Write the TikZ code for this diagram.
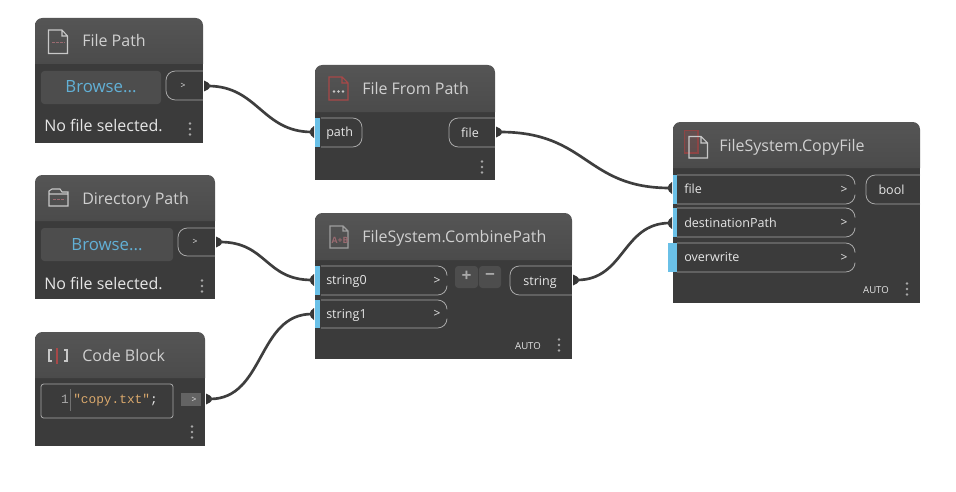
\documentclass[tikz,border=0pt]{standalone}
\usepackage{fontspec}
\setmainfont{Open Sans}
\setmonofont{Liberation Mono}
\definecolor{bodyc}{HTML}{3B3B3B}
\definecolor{hdrtop}{HTML}{555555}
\definecolor{hdrbot}{HTML}{4B4B4B}
\definecolor{txtc}{HTML}{E6E6E6}
\definecolor{titlec}{HTML}{D0D0D0}
\definecolor{btnc}{HTML}{4D4D4D}
\definecolor{browsec}{HTML}{62B0D6}
\definecolor{portc}{HTML}{6AC0E7}
\definecolor{linec}{HTML}{A8A8A8}
\definecolor{wirec}{HTML}{3E3E3E}
\definecolor{iconc}{HTML}{C8C8C8}
\definecolor{iconr}{HTML}{A84848}
\definecolor{iconp}{HTML}{9A6A70}
\definecolor{codec}{HTML}{D9A86C}
\tikzset{
  x=0.75pt,y=-0.75pt,
  titletext/.style={anchor=base west,inner sep=0pt,text=titlec,font=\fontsize{12}{14}\selectfont},
  labeltext/.style={anchor=base west,inner sep=0pt,text=txtc,font=\fontsize{9.4}{11}\selectfont},
  labelmid/.style={anchor=base,inner sep=0pt,text=txtc,font=\fontsize{9.4}{11}\selectfont},
  statustext/.style={anchor=base west,inner sep=0pt,text=txtc,font=\fontsize{12}{14}\selectfont},
  browsetext/.style={anchor=base,inner sep=0pt,text=browsec,font=\fontsize{12.6}{15}\selectfont},
  smalltext/.style={anchor=center,inner sep=0pt,text=txtc,font=\fontsize{6.5}{8}\selectfont},
  autotext/.style={anchor=base,inner sep=0pt,text=txtc,font=\fontsize{7.2}{9}\selectfont},
  wire/.style={draw=wirec,line width=2pt,line cap=round},
  pillline/.style={draw=linec,line width=0.6pt},
  iconline/.style={draw=iconc,line width=0.8pt},
  iconred/.style={draw=iconr,line width=0.8pt},
}
% x1 y1 x2 y2 yh
\newcommand{\dynbody}[5]{%
  \fill[bodyc] (#1,#5) rectangle (#3,#4);
  \shade[top color=hdrtop,bottom color=hdrbot]
    (#1,#5) [rounded corners=5.5pt] -- (#1,#2) -- (#3,#2) [sharp corners] -- (#3,#5) -- cycle;
}
% input pill with closed end: x1 y1 x2 y2 name label
\newcommand{\inpill}[6]{%
  \draw[pillline] (#1,#2) [rounded corners=7pt] -- (#3,#2) -- (#3,#4) [sharp corners] -- (#1,#4);
  \fill[portc] (#1-6,#2) rectangle (#1-1,#4);
  \node[labeltext] (#5) at (#1+5,{(#2+#4)/2+4}) {#6};
}
% input pill whose right end is broken beside its arrow: x1 y1 x2 y2 (line only)
\newcommand{\gappill}[4]{%
  \draw[pillline] (#1,#2) [rounded corners=7pt] -- (#3,#2) -- (#3,{(#2+#4)/2-5});
  \draw[pillline] (#1,#4) [rounded corners=7pt] -- (#3,#4) -- (#3,{(#2+#4)/2+5});
}
\newcommand{\inarrow}[3]{\node[inner sep=0pt,text=txtc,font=\fontsize{9}{11}\selectfont] (#3) at (#1,#2) {>};}
% output pill: x1 y1 x2 y2
\newcommand{\outpill}[4]{%
  \draw[pillline] (#3,#2) [rounded corners=7pt] -- (#1,#2) -- (#1,#4) [sharp corners] -- (#3,#4);
}
\newcommand{\menudots}[2]{%
  \foreach \d in {-5.5,0,5.5} \fill[linec] (#1,#2+\d) circle (1.05pt);
}
% tips
\newcommand{\tipout}[3]{%
  \fill[wirec!85!black] (#1+1,#2-5.5) .. controls (#1+4,#2-4.5) and (#1+7,#2-2.5) .. (#1+7,#2)
     .. controls (#1+7,#2+2.5) and (#1+4,#2+4.5) .. (#1+1,#2+5.5) -- cycle;
  \coordinate (#3) at (#1+5,#2);
}
\newcommand{\tipin}[3]{%
  \fill[wirec!85!black] (#1-1,#2-6) .. controls (#1-3,#2-4.5) and (#1-5.5,#2-2.5) .. (#1-5.5,#2)
     .. controls (#1-5.5,#2+2.5) and (#1-3,#2+4.5) .. (#1-1,#2+6) -- cycle;
  \coordinate (#3) at (#1-3,#2);
}
\begin{document}
\begin{tikzpicture}
\useasboundingbox (0,0) rectangle (956,492);
\fill[white] (0,0) rectangle (956,492);

% ---- File Path
\dynbody{35}{18}{203}{143}{64}
\draw[iconline] (48.5,30) -- (62,30) -- (67.5,36) -- (67.5,53.5) -- (48.5,53.5) -- cycle (62,30) -- (62,36) -- (67.5,36);
\draw[draw=iconp,line width=1.3pt,dash pattern=on 2.2pt off 0.8pt] (52,42.5) -- (65,42.5);
\node[titletext] (t1) at (82,47) {File Path};
\fill[btnc,rounded corners=2.5pt] (41,71) rectangle (161,104);
\node[browsetext] (b1) at (101,93) {Browse...};
\outpill{166}{71}{203}{100}
\node[smalltext] (g1) at (183,86) {>};
\node[statustext] (s1) at (44,131) {No file selected.};
\menudots{190}{129}
\tipout{203}{86}{tip1}

% ---- Directory Path
\dynbody{35}{175}{215}{299}{221}
\draw[iconline] (49,206) -- (49,191) -- (52,189) -- (60,189) -- (62,192) -- (68,192) -- (68,206) -- cycle (49,194) -- (68,194);
\draw[draw=iconp,line width=1.3pt,dash pattern=on 2.2pt off 0.8pt] (53,199.5) -- (65,199.5);
\node[titletext] (t2) at (82,204) {Directory Path};
\fill[btnc,rounded corners=2.5pt] (41,228) rectangle (173,261);
\node[browsetext] (b2) at (107,250) {Browse...};
\outpill{178}{228}{215}{256}
\node[smalltext] (g2) at (195,242) {>};
\node[statustext] (s2) at (44,289) {No file selected.};
\menudots{202}{286}
\tipout{215}{242}{tip2}

% ---- Code Block
\dynbody{35}{332}{205}{446}{378}
\draw[iconline] (52,350) -- (49,350) -- (49,361) -- (52,361) (64,350) -- (67,350) -- (67,361) -- (64,361);
\draw[draw=iconr,line width=1.4pt] (57,348) -- (57,364);
\node[titletext] (t3) at (82,361) {Code Block};
\draw[draw=linec,line width=0.6pt,rounded corners=2pt] (41,384) rectangle (173,418);
\draw[draw=linec!50!bodyc,line width=0.4pt] (70.5,389) -- (70.5,411);
\node[anchor=base east,inner sep=0pt,text=linec,font=\ttfamily\fontsize{9.6}{11}\selectfont] (ln) at (69,403) {1};
\node[anchor=base west,inner sep=0pt,font=\ttfamily\fontsize{9.6}{11}\selectfont] (cd) at (73,403) {\textcolor{codec}{"copy.txt"}\textcolor{txtc}{;}};
\fill[black!45!bodyc!70!white] (181,393) rectangle (201,406);
\node[smalltext] (g3) at (194,400) {>};
\menudots{192}{432}
\tipout{205}{399}{tip3}

% ---- File From Path
\dynbody{315}{65}{495}{180}{112}
\draw[iconred] (329,77) -- (342,77) -- (348,83) -- (348,100) -- (329,100) -- cycle (342,77) -- (342,83) -- (348,83);
\foreach \q in {334,338.5,343} \fill[iconc] (\q,91.5) circle (1.1pt);
\node[titletext] (t4) at (362,94) {File From Path};
\inpill{321}{118}{362}{147}{p4}{path}
\outpill{449}{118}{495}{147}
\node[labelmid] (l4) at (470,137) {file};
\menudots{482}{167}
\tipin{315}{132}{tip4i}
\tipout{495}{132}{tip4o}

% ---- FileSystem.CombinePath
\dynbody{315}{213}{572}{359}{260}
\draw[draw=iconc!70!bodyc,line width=0.8pt] (330,226) -- (343,226) -- (348,231) -- (348,248) -- (330,248) -- cycle (343,226) -- (343,231) -- (348,231);
\node[inner sep=0pt,text=iconp,font=\bfseries\fontsize{6.5}{7}\selectfont] (ai) at (340,240) {A+B};
\node[titletext] (t5) at (362,242) {FileSystem.CombinePath};
\gappill{321}{266}{447}{295}
\fill[portc] (315,266) rectangle (320,295);
\node[labeltext] (p51) at (326,284.5) {string0};
\inarrow{437}{281}{a51}
\gappill{321}{300}{447}{328}
\fill[portc] (315,300) rectangle (320,328);
\node[labeltext] (p52) at (326,318) {string1};
\inarrow{437}{314}{a52}
\fill[btnc,rounded corners=2.5pt] (455,266) rectangle (478,288);
\fill[btnc,rounded corners=2.5pt] (479,266) rectangle (501,288);
\node[inner sep=0pt,text=linec,font=\bfseries\fontsize{13}{15}\selectfont] (plus) at (466.5,276.5) {+};
\node[inner sep=0pt,text=linec,font=\bfseries\fontsize{13}{15}\selectfont] (minus) at (490,276.5) {−};
\outpill{510}{266}{572}{295}
\node[labelmid] (l5) at (540,285) {string};
\node[autotext] (au5) at (528,349) {AUTO};
\menudots{559}{345}
\tipin{315}{280}{tip51}
\tipin{315}{314}{tip52}
\tipout{572}{280}{tip5o}

% ---- FileSystem.CopyFile
\dynbody{673}{122}{920}{303}{168}
\fill[iconr,opacity=0.2] (684.5,130.5) rectangle (698,153);
\draw[draw=iconr!75!bodyc,line width=0.8pt] (684.5,130.5) rectangle (698,153);
\draw[iconline] (689,136.5) -- (701,136.5) -- (707.5,143) -- (707.5,158) -- (689,158) -- cycle (701,136.5) -- (701,143) -- (707.5,143);
\node[titletext] (t6) at (719,151) {FileSystem.CopyFile};
\gappill{677}{175}{855}{204}
\gappill{677}{208}{855}{237}
\gappill{677}{243}{855}{272}
\fill[portc] (673,175) rectangle (677,204);
\fill[portc] (673,208) rectangle (677,237);
\fill[portc] (668,243) rectangle (677,272);
\node[labeltext] (p61) at (684,193) {file};
\node[labeltext] (p62) at (684,227) {destinationPath};
\node[labeltext] (p63) at (684,261) {overwrite};
\inarrow{844}{190}{a61}
\inarrow{844}{223}{a62}
\inarrow{844}{258}{a63}
\outpill{866}{175}{920}{204}
\node[labelmid] (l6) at (891.5,194) {bool};
\node[autotext] (au6) at (876,293) {AUTO};
\menudots{907}{289}
\tipin{673}{188}{tip61}
\tipin{673}{223}{tip62}

% wires
\draw[wire] (tip1) .. controls +(50,0) and +(-50,0) .. (tip4i);
\draw[wire] (tip4o) .. controls +(88,0) and +(-85,0) .. (tip61);
\draw[wire] (tip2) .. controls +(47,0) and +(-47,0) .. (tip51);
\draw[wire] (tip3) .. controls +(55,0) and +(-55,0) .. (tip52);
\draw[wire] (tip5o) .. controls +(48,0) and +(-48,0) .. (tip62);
\end{tikzpicture}
\end{document}
